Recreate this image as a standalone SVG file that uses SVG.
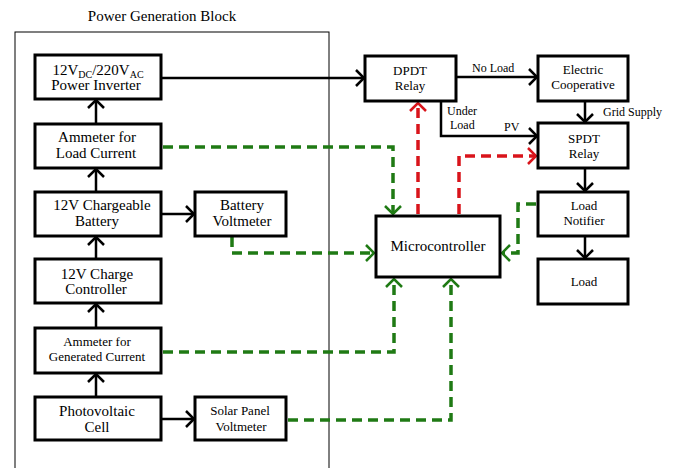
<svg xmlns="http://www.w3.org/2000/svg" width="674" height="468" viewBox="0 0 674 468">
<defs>
<style>
.box{fill:#fff;stroke:#000;stroke-width:3}
.t{font-family:"Liberation Serif","Times New Roman",serif;font-size:15px;fill:#000;text-anchor:middle}
.s{font-size:13px}
.l{font-family:"Liberation Serif","Times New Roman",serif;font-size:12px;fill:#000}
.bk{fill:none;stroke:#000;stroke-width:2.5}
.gr{fill:none;stroke:#1f7a14;stroke-width:3.5;stroke-dasharray:10,6}
.rd{fill:none;stroke:#d9141b;stroke-width:3.5;stroke-dasharray:10,6}
</style>
<marker id="ab" viewBox="0 0 10 18" refX="9" refY="9" markerWidth="10" markerHeight="18" orient="auto" markerUnits="userSpaceOnUse"><path d="M1,1 L9,9 L1,17" fill="none" stroke="#000" stroke-width="2.5"/></marker>
<marker id="ag" viewBox="0 0 10 18" refX="9" refY="9" markerWidth="10" markerHeight="18" orient="auto" markerUnits="userSpaceOnUse"><path d="M1,1 L9,9 L1,17" fill="none" stroke="#1f7a14" stroke-width="2.5"/></marker>
<marker id="ar" viewBox="0 0 10 18" refX="9" refY="9" markerWidth="10" markerHeight="18" orient="auto" markerUnits="userSpaceOnUse"><path d="M1,1 L9,9 L1,17" fill="none" stroke="#d9141b" stroke-width="2.5"/></marker>
</defs>
<rect width="674" height="468" fill="#fff"/>
<g id="block">
<rect x="15" y="32" width="314" height="450" fill="none" stroke="#000" stroke-width="1"/>
<text class="t" x="162" y="21">Power Generation Block</text>
</g>
<g id="connectors">
<path class="bk" d="M161,78 H364" marker-end="url(#ab)"/>
<path class="bk" d="M96,124 V100" marker-end="url(#ab)"/>
<path class="bk" d="M96,192 V169" marker-end="url(#ab)"/>
<path class="bk" d="M96,259 V237" marker-end="url(#ab)"/>
<path class="bk" d="M96,328 V304" marker-end="url(#ab)"/>
<path class="bk" d="M96,397 V374" marker-end="url(#ab)"/>
<path class="bk" d="M161,214 H194" marker-end="url(#ab)"/>
<path class="bk" d="M161,419 H194" marker-end="url(#ab)"/>
<path class="bk" d="M456,77 H537" marker-end="url(#ab)"/>
<path class="bk" d="M441,101 V136 H537" marker-end="url(#ab)"/>
<path class="bk" d="M585,101 V122" marker-end="url(#ab)"/>
<path class="bk" d="M585,168 V191" marker-end="url(#ab)"/>
<path class="bk" d="M585,236 V258" marker-end="url(#ab)"/>
<path class="gr" d="M163,147 H393 V214" marker-end="url(#ag)"/>
<path class="gr" d="M232,237 V253 H374" marker-end="url(#ag)"/>
<path class="gr" d="M163,352 H394 V279" marker-end="url(#ag)"/>
<path class="gr" d="M288,420 H451 V279" marker-end="url(#ag)"/>
<path class="gr" d="M536,204 H518 V253 H502" marker-end="url(#ag)"/>
<path class="rd" d="M418,214 V103" marker-end="url(#ar)"/>
<path class="rd" d="M459,214 V156 H536" marker-end="url(#ar)"/>
<text class="l" x="472" y="72">No Load</text>
<text class="l" x="603" y="116">Grid Supply</text>
<text class="l" x="447" y="115">Under</text>
<text class="l" x="450" y="129">Load</text>
<text class="l" x="504" y="131">PV</text>
</g>
<g id="inverter">
<rect class="box" x="35" y="55" width="126" height="44"/>
<text class="t" x="98" y="75">12V<tspan font-size="10" dy="3">DC</tspan><tspan dy="-3">/220V</tspan><tspan font-size="10" dy="3">AC</tspan></text>
<text class="t" x="96" y="90">Power Inverter</text>
</g>
<g id="ammeter-load">
<rect class="box" x="35" y="124" width="126" height="44"/>
<text class="t" x="97" y="142">Ammeter for</text>
<text class="t" x="96" y="158">Load Current</text>
</g>
<g id="battery">
<rect class="box" x="35" y="192" width="126" height="44"/>
<text class="t" x="102" y="210">12V Chargeable</text>
<text class="t" x="97" y="226">Battery</text>
</g>
<g id="battery-voltmeter">
<rect class="box" x="195" y="192" width="91" height="44"/>
<text class="t" x="242" y="210">Battery</text>
<text class="t" x="242" y="226">Voltmeter</text>
</g>
<g id="charge-controller">
<rect class="box" x="35" y="259" width="126" height="44"/>
<text class="t" x="97" y="279">12V Charge</text>
<text class="t" x="96" y="294">Controller</text>
</g>
<g id="ammeter-gen">
<rect class="box" x="35" y="328" width="126" height="45"/>
<text class="t s" x="97" y="346">Ammeter for</text>
<text class="t s" x="97" y="361">Generated Current</text>
</g>
<g id="pv-cell">
<rect class="box" x="35" y="397" width="126" height="43"/>
<text class="t" x="97" y="416">Photovoltaic</text>
<text class="t" x="97" y="432">Cell</text>
</g>
<g id="solar-voltmeter">
<rect class="box" x="195" y="397" width="91" height="43"/>
<text class="t s" x="240" y="415">Solar Panel</text>
<text class="t s" x="241" y="431">Voltmeter</text>
</g>
<g id="dpdt">
<rect class="box" x="365" y="56" width="91" height="45"/>
<text class="t s" x="410" y="75">DPDT</text>
<text class="t s" x="410" y="90">Relay</text>
</g>
<g id="electric-coop">
<rect class="box" x="538" y="56" width="90" height="45"/>
<text class="t s" x="583" y="74">Electric</text>
<text class="t s" x="583" y="89">Cooperative</text>
</g>
<g id="spdt">
<rect class="box" x="538" y="123" width="90" height="45"/>
<text class="t s" x="584" y="143">SPDT</text>
<text class="t s" x="584" y="158">Relay</text>
</g>
<g id="microcontroller">
<rect class="box" x="376" y="216" width="124" height="61"/>
<text class="t" x="438" y="251">Microcontroller</text>
</g>
<g id="load-notifier">
<rect class="box" x="538" y="192" width="90" height="44"/>
<text class="t s" x="584" y="210">Load</text>
<text class="t s" x="584" y="225">Notifier</text>
</g>
<g id="load">
<rect class="box" x="538" y="259" width="90" height="45"/>
<text class="t s" x="584" y="286">Load</text>
</g>
</svg>
